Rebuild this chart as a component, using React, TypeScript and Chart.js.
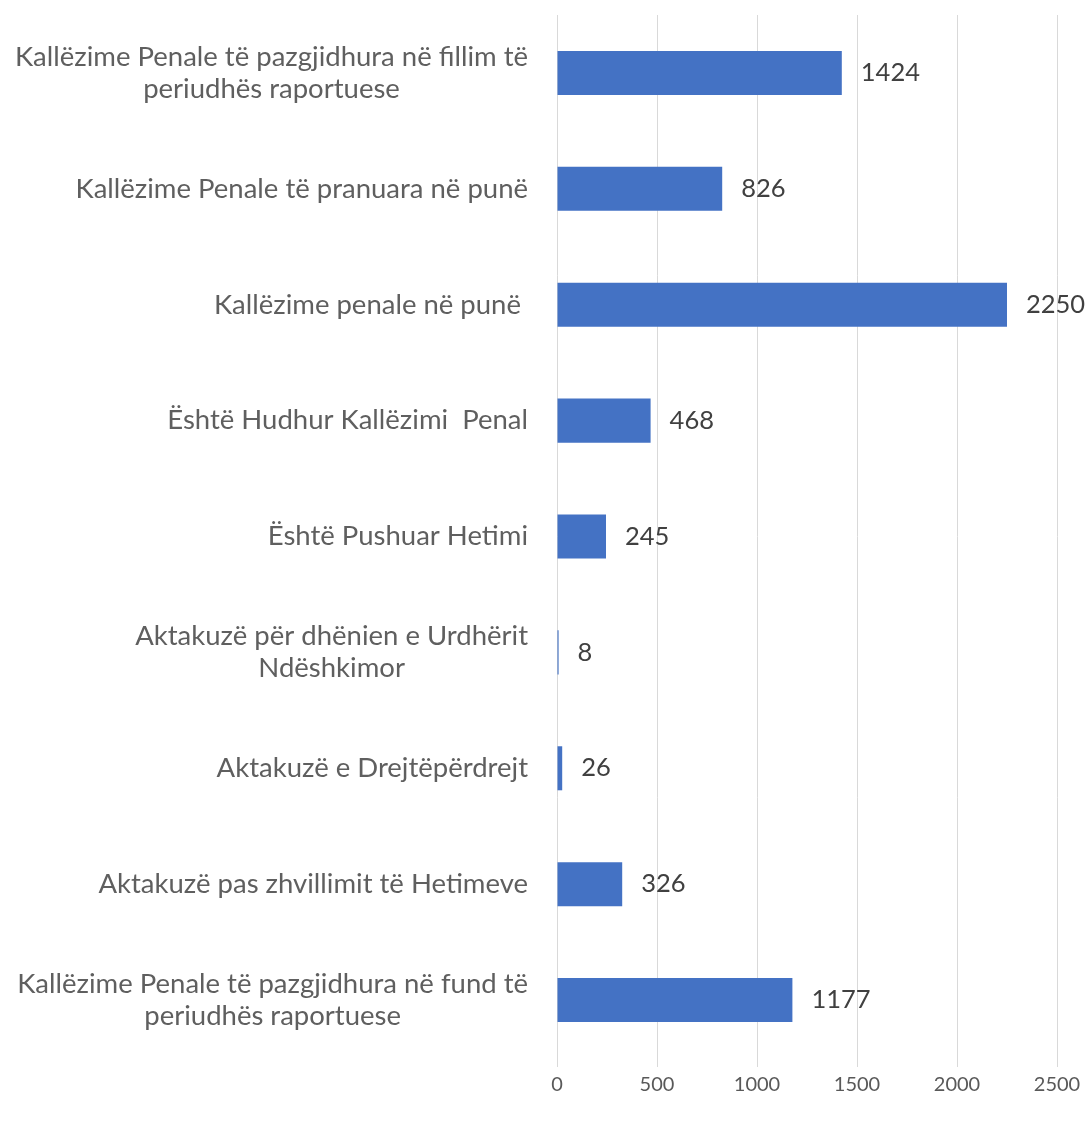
import React, { useEffect, useRef } from "react";
import { Chart, registerables } from "chart.js";

Chart.register(...registerables);

const categories: string[][] = [
  ["Kallëzime Penale të pazgjidhura në fillim të", "periudhës raportuese"],
  ["Kallëzime Penale të pranuara në punë"],
  ["Kallëzime penale në punë "],
  ["Është Hudhur Kallëzimi  Penal"],
  ["Është Pushuar Hetimi"],
  ["Aktakuzë për dhënien e Urdhërit", "Ndëshkimor"],
  ["Aktakuzë e Drejtëpërdrejt"],
  ["Aktakuzë pas zhvillimit të Hetimeve"],
  ["Kallëzime Penale të pazgjidhura në fund të", "periudhës raportuese"],
];

const values: number[] = [1424, 826, 2250, 468, 245, 8, 26, 326, 1177];

const xTicks: number[] = [0, 500, 1000, 1500, 2000, 2500];

const FONT = "Lato, 'Noto Sans', sans-serif";

const yLabelPlugin = {
  id: "yLabelPlugin",
  afterDraw(chart: any) {
    const ctx = chart.ctx;
    const yScale = chart.scales.y;
    const rightEdge = 528;
    const lineH = 32;
    ctx.save();
    ctx.font = `27.5px ${FONT}`;
    ctx.fillStyle = "#5f5f5f";
    ctx.textBaseline = "middle";
    ctx.textAlign = "center";
    categories.forEach((lines, i) => {
      const y = yScale.getPixelForValue(i);
      const w = Math.max(...lines.map((l) => ctx.measureText(l).width));
      const cx = rightEdge - w / 2;
      lines.forEach((line, j) => {
        const ly = y + (j - (lines.length - 1) / 2) * lineH;
        ctx.fillText(line, cx, ly);
      });
    });
    ctx.restore();
  },
};

const dataLabelPlugin = {
  id: "dataLabelPlugin",
  afterDatasetsDraw(chart: any) {
    const ctx = chart.ctx;
    const meta = chart.getDatasetMeta(0);
    ctx.save();
    ctx.font = `25.5px ${FONT}`;
    ctx.fillStyle = "#404040";
    ctx.textBaseline = "middle";
    ctx.textAlign = "left";
    meta.data.forEach((bar: any, i: number) => {
      ctx.fillText(String(values[i]), bar.x + 19, bar.y);
    });
    ctx.restore();
  },
};

export default function App() {
  const canvasRef = useRef<HTMLCanvasElement | null>(null);

  useEffect(() => {
    document.body.style.margin = "0";
    const canvas = canvasRef.current;
    if (!canvas) return;
    const chart = new Chart(canvas, {
      type: "bar",
      data: {
        labels: categories.map((c) => c.join(" ")),
        datasets: [
          {
            data: values,
            backgroundColor: "#4472C4",
            borderWidth: 0,
            barPercentage: 0.38,
            categoryPercentage: 1,
          },
        ],
      },
      options: {
        indexAxis: "y",
        responsive: false,
        animation: false,
        layout: { padding: { top: 15, right: 32, bottom: 18, left: 0 } },
        plugins: {
          legend: { display: false },
          tooltip: { enabled: false },
        },
        scales: {
          x: {
            min: 0,
            max: 2500,
            afterBuildTicks(scale: any) {
              scale.ticks = xTicks.map((v) => ({ value: v }));
            },
            grid: {
              color: "#d9d9d9",
              lineWidth: 1,
              drawTicks: true,
              tickLength: 9,
              tickColor: "#d9d9d9",
            },
            border: { display: false },
            ticks: {
              color: "#595959",
              font: { family: FONT, size: 20 },
              padding: 6,
              maxRotation: 0,
              callback: (v: any) => String(v),
            },
          },
          y: {
            grid: { display: false, drawTicks: false },
            border: { display: false },
            ticks: { display: false },
            afterFit(scale: any) {
              scale.width = 557;
            },
          },
        },
      },
      plugins: [yLabelPlugin, dataLabelPlugin],
    });
    return () => chart.destroy();
  }, []);

  return (
    <div style={{ width: 1089, height: 1121 }}>
      <canvas ref={canvasRef} width={1089} height={1121} />
    </div>
  );
}
